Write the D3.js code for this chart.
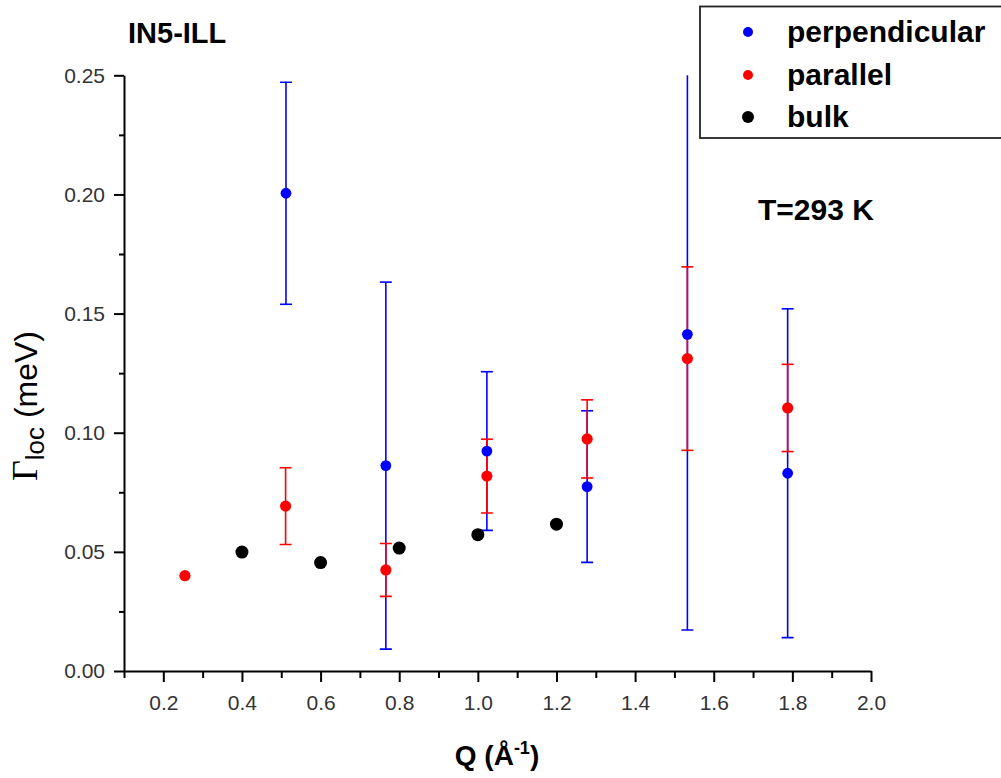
<!DOCTYPE html>
<html>
<head>
<meta charset="utf-8">
<script src="https://cdn.jsdelivr.net/npm/d3@7"></script>
<style>
  html, body { margin: 0; padding: 0; background: #fff; }
  svg { display: block; }
  text { font-family: "Liberation Sans", Arial, sans-serif; }
</style>
</head>
<body>
<svg id="chart" width="1001" height="778"></svg>
<script>
// ---- data ----
const perpQ   = [0.512, 0.766, 1.023, 1.278, 1.533, 1.788];
const perpG   = [0.2005, 0.0862, 0.0923, 0.0774, 0.1413, 0.0830];
const perpErr = [0.0466, 0.0770, 0.0333, 0.0318, 0.1241, 0.0690];

const parQ   = [0.255, 0.511, 0.766, 1.023, 1.278, 1.533, 1.788];
const parG   = [0.0400, 0.0692, 0.0424, 0.0818, 0.0974, 0.1311, 0.1104];
const parErr = [null, 0.0161, 0.0111, 0.0155, 0.0164, 0.0385, 0.0183];

const bulkQ = [0.4, 0.6, 0.8, 1.0, 1.2];
const bulkG = [0.0499, 0.0455, 0.0516, 0.0572, 0.0616];

const xMajorTicks = [0.2, 0.4, 0.6, 0.8, 1.0, 1.2, 1.4, 1.6, 1.8, 2.0];
const xMinorTicks = [0.1, 0.3, 0.5, 0.7, 0.9, 1.1, 1.3, 1.5, 1.7, 1.9];
const yMajorTicks = [0.00, 0.05, 0.10, 0.15, 0.20, 0.25];
const yMinorTicks = [0.025, 0.075, 0.125, 0.175, 0.225];

const seriesNames = ["perpendicular", "parallel", "bulk"];
const seriesColors = ["#0000ff", "#ff0000", "#000000"];

// ---- layout ----
const svg = d3.select("#chart");
svg.append("rect").attr("width", 1001).attr("height", 778).attr("fill", "#fff");

const x = d3.scaleLinear().domain([0.1, 2.0]).range([124, 871]);
const y = d3.scaleLinear().domain([0, 0.25]).range([671, 75.3]);

svg.append("clipPath").attr("id", "plotclip")
  .append("rect").attr("x", 110).attr("y", 75.3).attr("width", 780).attr("height", 600);

// ---- axes ----
function styleAxis(g, sw) {
  g.select(".domain").attr("stroke", "#000").attr("stroke-width", sw);
  g.selectAll(".tick line").attr("stroke", "#000").attr("stroke-width", 2);
  g.selectAll(".tick text").attr("fill", "#333")
    .style("font-family", "'Liberation Sans', Arial, sans-serif").style("font-size", "21px");
}

// minor x ticks
svg.append("g").attr("transform", "translate(0,671)")
  .call(d3.axisBottom(x).tickValues(xMinorTicks).tickSize(7).tickSizeOuter(0).tickFormat(""))
  .call(g => { g.select(".domain").remove(); g.selectAll(".tick line").attr("stroke", "#000").attr("stroke-width", 2); });
// major x
const gx = svg.append("g").attr("transform", "translate(0,671)")
  .call(d3.axisBottom(x).tickValues(xMajorTicks).tickSize(11).tickSizeOuter(0).tickPadding(13).tickFormat(d3.format(".1f")));
styleAxis(gx, 2);

// minor y ticks
svg.append("g").attr("transform", "translate(124,0)")
  .call(d3.axisLeft(y).tickValues(yMinorTicks).tickSize(5).tickSizeOuter(0).tickFormat(""))
  .call(g => { g.select(".domain").remove(); g.selectAll(".tick line").attr("stroke", "#000").attr("stroke-width", 2); });
const gy = svg.append("g").attr("transform", "translate(124,0)")
  .call(d3.axisLeft(y).tickValues(yMajorTicks).tickSize(10).tickSizeOuter(0).tickPadding(9).tickFormat(d3.format(".2f")));
styleAxis(gy, 2);

// ---- error bars ----
const plot = svg.append("g").attr("clip-path", "url(#plotclip)");
function errorBars(Q, G, E, color) {
  const data = Q.map((q, i) => ({q, g: G[i], e: E[i]})).filter(d => d.e != null);
  const g = plot.append("g").attr("stroke", color).attr("stroke-width", 1.6).attr("fill", "none");
  g.selectAll("line.v").data(data).join("line").attr("class", "v")
    .attr("x1", d => x(d.q)).attr("x2", d => x(d.q))
    .attr("y1", d => y(d.g + d.e)).attr("y2", d => y(d.g - d.e));
  g.selectAll("line.t").data(data).join("line").attr("class", "t")
    .attr("x1", d => x(d.q) - 6).attr("x2", d => x(d.q) + 6)
    .attr("y1", d => y(d.g + d.e)).attr("y2", d => y(d.g + d.e));
  g.selectAll("line.b").data(data).join("line").attr("class", "b")
    .attr("x1", d => x(d.q) - 6).attr("x2", d => x(d.q) + 6)
    .attr("y1", d => y(d.g - d.e)).attr("y2", d => y(d.g - d.e));
}
errorBars(perpQ, perpG, perpErr, seriesColors[0]);
errorBars(parQ, parG, parErr, seriesColors[1]);

function markers(Q, G, color, r) {
  svg.append("g").selectAll("circle").data(Q.map((q, i) => ({q, g: G[i]}))).join("circle")
    .attr("cx", d => x(d.q)).attr("cy", d => y(d.g)).attr("r", r).attr("fill", color);
}
markers(perpQ, perpG, seriesColors[0], 5.4);
markers(parQ, parG, seriesColors[1], 5.6);
markers(bulkQ, bulkG, seriesColors[2], 6.5);

// ---- axis titles ----
const xt = svg.append("text").attr("x", 497).attr("y", 765).attr("text-anchor", "middle")
  .style("font-size", "28px").style("font-weight", "bold").attr("fill", "#000");
xt.append("tspan").text("Q (Å");
xt.append("tspan").attr("dy", -11).style("font-size", "18px").text("-1");
xt.append("tspan").attr("dy", 11).text(")");

const yt = svg.append("text").attr("transform", "translate(37,406) rotate(-90)")
  .attr("text-anchor", "middle").attr("fill", "#000");
yt.append("tspan").style("font-family", "'Liberation Serif', 'Times New Roman', serif").style("font-size", "36px").text("Γ");
yt.append("tspan").attr("dy", 7).style("font-size", "26px").text("loc");
yt.append("tspan").attr("dy", -7).style("font-size", "32px").text(" (meV)");

// ---- annotations ----
svg.append("text").attr("x", 128).attr("y", 43).style("font-size", "29px").style("font-weight", "bold")
  .attr("fill", "#000").text("IN5-ILL");
svg.append("text").attr("x", 758).attr("y", 220).style("font-size", "30px").style("font-weight", "bold")
  .attr("fill", "#000").attr("xml:space", "preserve").text("T=293 K");

// ---- legend ----
svg.append("rect").attr("x", 700).attr("y", 6.5).attr("width", 320).attr("height", 131.5)
  .attr("fill", "#fff").attr("stroke", "#222").attr("stroke-width", 1.8);
const legY = [32, 75, 117];
const legR = [5, 5, 6];
const leg = svg.append("g");
leg.selectAll("circle").data(seriesNames).join("circle")
  .attr("cx", 748).attr("cy", (d, i) => legY[i]).attr("r", (d, i) => legR[i])
  .attr("fill", (d, i) => seriesColors[i]);
leg.selectAll("text").data(seriesNames).join("text")
  .attr("x", 787).attr("y", (d, i) => legY[i] + 10)
  .style("font-size", "30px").style("font-weight", "bold").attr("fill", "#000")
  .text(d => d);
</script>
</body>
</html>
